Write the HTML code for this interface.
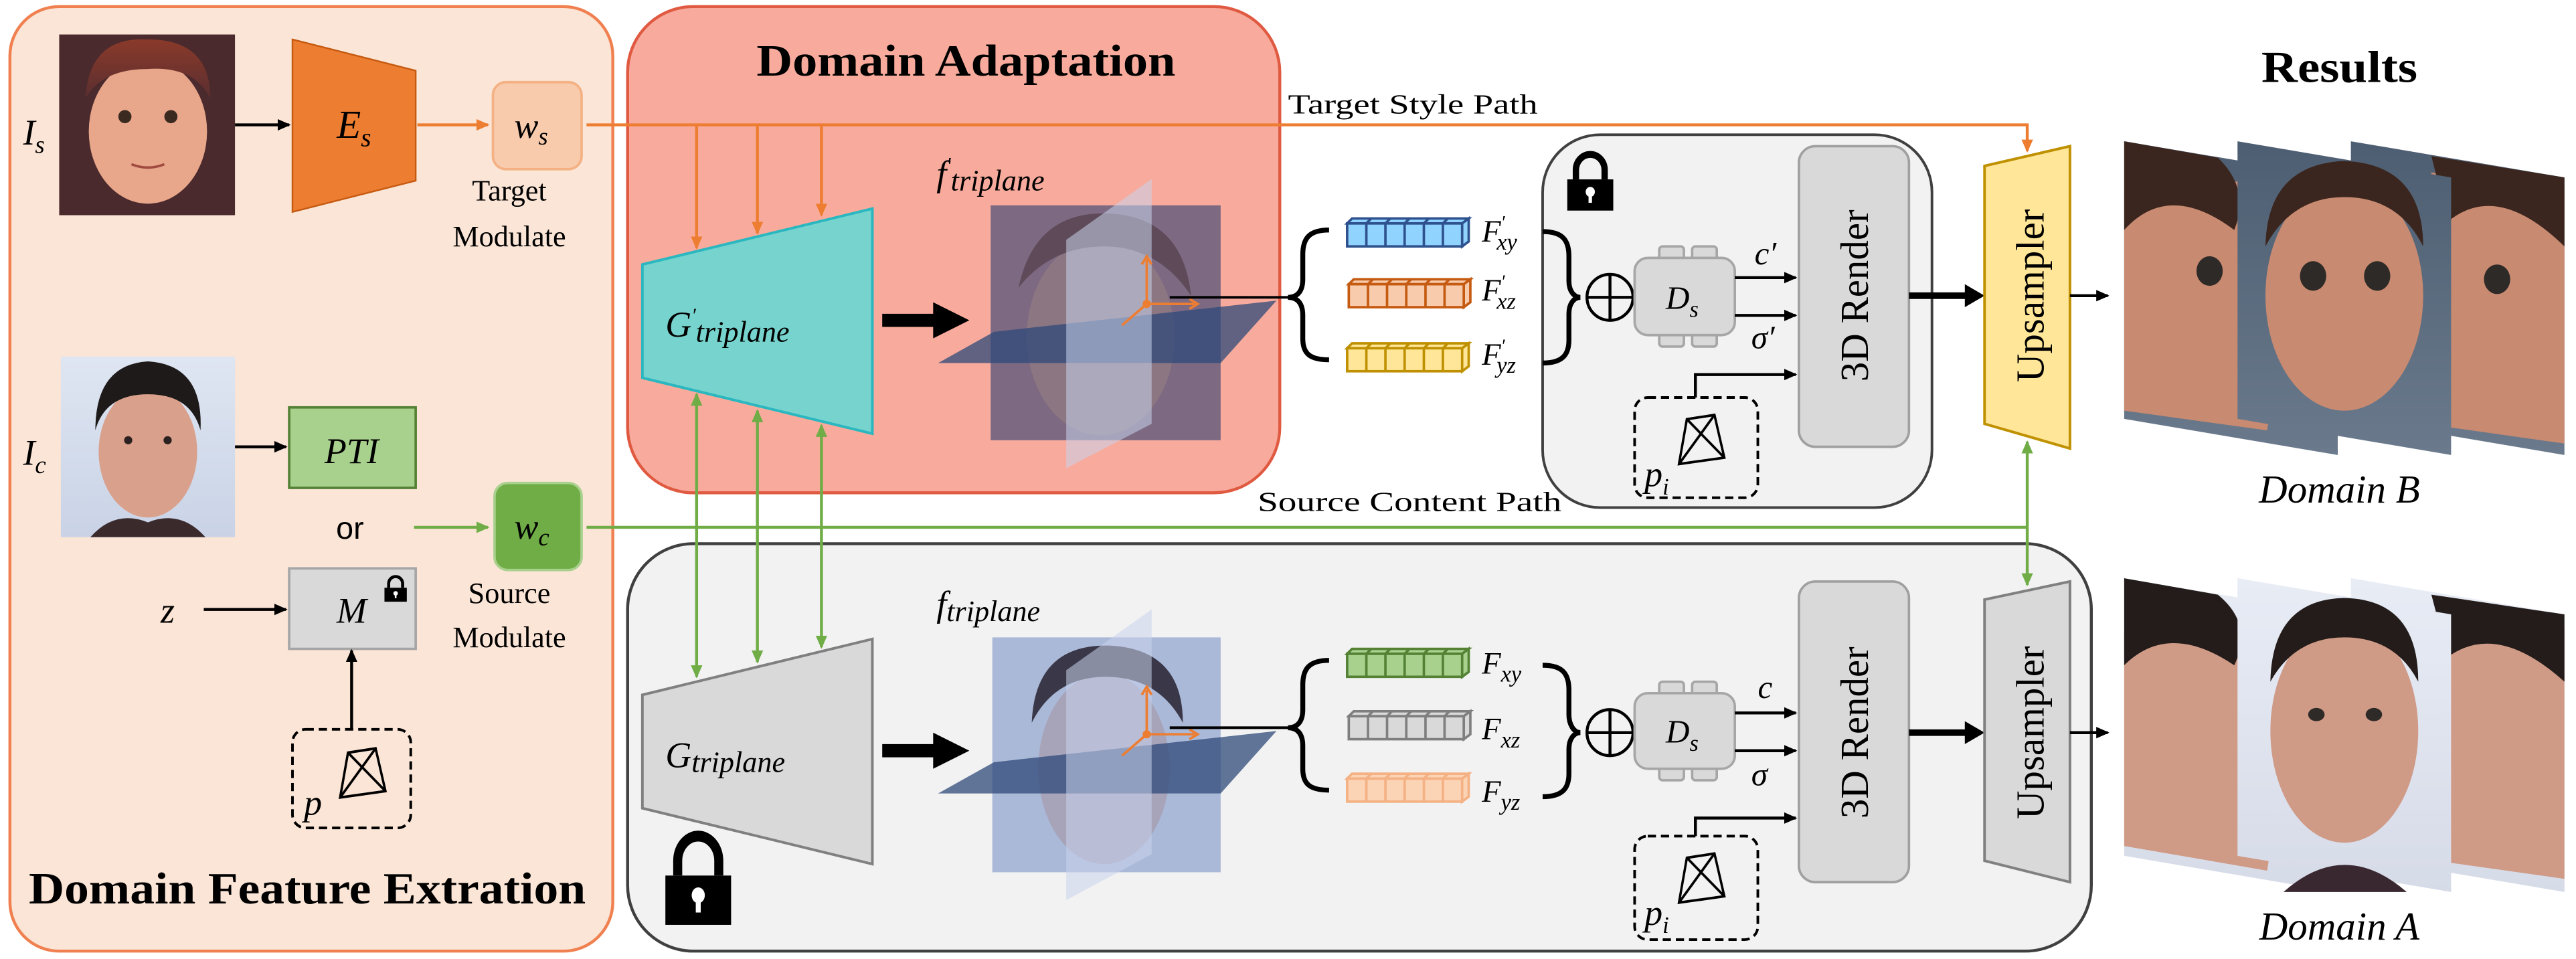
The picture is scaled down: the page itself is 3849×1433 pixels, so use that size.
<!DOCTYPE html>
<html><head><meta charset="utf-8"><style>html,body{margin:0;padding:0;background:#fff}svg{display:block}</style></head>
<body>
<svg width="3849" height="1433" viewBox="0 0 1568 583.8" xmlns="http://www.w3.org/2000/svg">
<defs>
<marker id="ab" markerWidth="8" markerHeight="8" refX="7" refY="4" orient="auto" markerUnits="userSpaceOnUse"><path d="M0,0.5 L8,4 L0,7.5 z" fill="#000"/></marker>
<marker id="ao" markerWidth="8" markerHeight="8" refX="7" refY="4" orient="auto" markerUnits="userSpaceOnUse"><path d="M0,0.5 L8,4 L0,7.5 z" fill="#ed7d31"/></marker>
<marker id="ag" markerWidth="8" markerHeight="8" refX="7" refY="4" orient="auto" markerUnits="userSpaceOnUse"><path d="M0,0.5 L8,4 L0,7.5 z" fill="#70ad47"/></marker>
<marker id="agr" markerWidth="8" markerHeight="8" refX="1" refY="4" orient="auto" markerUnits="userSpaceOnUse"><path d="M8,0.5 L0,4 L8,7.5 z" fill="#70ad47"/></marker>
<g id="bar">
<polygon points="0,3 3,0 74,0 70,3"/>
<polygon points="70,3 74,0 74,14 70,17"/>
<rect x="0" y="3" width="70" height="14"/>
<path d="M11.7,3V17M23.3,3V17M35,3V17M46.7,3V17M58.3,3V17M14.7,0L11.7,3M26.3,0L23.3,3M38,0L35,3M49.7,0L46.7,3M61.3,0L58.3,3" fill="none"/>
</g>
<g id="lock">
<path d="M3,8 V5 A5,5 0 0 1 13,5 V8" fill="none" stroke="#000" stroke-width="2.2"/>
<rect x="0" y="8" width="16" height="10" fill="#000"/>
<circle cx="8" cy="12" r="1.6" fill="#fff"/><rect x="7.4" y="12" width="1.2" height="3.5" fill="#fff"/>
</g>
<g id="cam">
<path d="M14,4 L28,2 L33,22 L10,25 Z M14,4 L33,22 M28,2 L10,25 M14,4 L10,25" fill="none" stroke="#000" stroke-width="1.2"/>
</g>
<linearGradient id="hairS" x1="0" y1="0" x2="0" y2="1"><stop offset="0" stop-color="#8a3a2a"/><stop offset="1" stop-color="#5a2e30"/></linearGradient>
<linearGradient id="bgC" x1="0" y1="0" x2="0" y2="1"><stop offset="0" stop-color="#dfe6f2"/><stop offset="1" stop-color="#c9d3e6"/></linearGradient>
<linearGradient id="bgB" x1="0" y1="0" x2="0" y2="1"><stop offset="0" stop-color="#4e5e72"/><stop offset="1" stop-color="#6a7a8c"/></linearGradient>
<linearGradient id="bgA" x1="0" y1="0" x2="0" y2="1"><stop offset="0" stop-color="#e8ecf5"/><stop offset="1" stop-color="#d6dbe8"/></linearGradient>
</defs>

<!-- Left panel -->
<rect x="6" y="4" width="367" height="575" rx="30" fill="#fbe5d6" stroke="#f08050" stroke-width="1.8"/>
<!-- Domain Adaptation box -->
<rect x="382" y="4" width="397" height="296" rx="40" fill="#f8ab9c" stroke="#e05a42" stroke-width="1.8"/>
<!-- bottom grey box -->
<rect x="382" y="331" width="891" height="248" rx="40" fill="#f2f2f2" stroke="#404040" stroke-width="1.8"/>
<!-- upper render box -->
<rect x="939" y="82" width="237" height="227" rx="35" fill="#f2f2f2" stroke="#404040" stroke-width="1.6"/>

<!-- Titles -->
<text x="588" y="46" font-family="Liberation Serif, serif" font-weight="bold" font-size="27" text-anchor="middle" textLength="255" lengthAdjust="spacingAndGlyphs">Domain Adaptation</text>
<text x="1424" y="50" font-family="Liberation Serif, serif" font-weight="bold" font-size="27" text-anchor="middle" textLength="95" lengthAdjust="spacingAndGlyphs">Results</text>
<text x="187" y="550" font-family="Liberation Serif, serif" font-weight="bold" font-size="27" text-anchor="middle" textLength="339" lengthAdjust="spacingAndGlyphs">Domain Feature Extration</text>

<!-- Is face -->
<rect x="36" y="21" width="107" height="110" fill="#4a2a2c"/>
<ellipse cx="90" cy="80" rx="36" ry="44" fill="#e8a68a"/>
<path d="M52,60 Q54,22 90,24 Q128,24 128,60 Q118,40 90,42 Q62,42 52,60 Z" fill="url(#hairS)"/>
<circle cx="76" cy="71" r="4" fill="#3a2a20"/><circle cx="104" cy="71" r="4" fill="#3a2a20"/>
<path d="M80,100 Q90,104 100,100" stroke="#a04a40" stroke-width="1.5" fill="none"/>
<text x="14" y="88" font-family="Liberation Serif, serif" font-style="italic" font-size="22">I<tspan font-size="15" dy="5">s</tspan></text>

<line x1="143" y1="76" x2="176" y2="76" stroke="#000" stroke-width="1.8" marker-end="url(#ab)"/>
<!-- Es -->
<polygon points="178,24 253,43 253,110 178,129" fill="#ed7d31" stroke="#c55a11" stroke-width="1"/>
<text x="205" y="84" font-family="Liberation Serif, serif" font-style="italic" font-size="24">E<tspan font-size="16" dy="5">s</tspan></text>
<line x1="254" y1="76" x2="297" y2="76" stroke="#ed7d31" stroke-width="1.8" marker-end="url(#ao)"/>
<!-- ws -->
<rect x="300" y="50" width="54" height="53" rx="8" fill="#f8cbad" stroke="#f4b183" stroke-width="1.5"/>
<text x="313" y="84" font-family="Liberation Serif, serif" font-style="italic" font-size="22">w<tspan font-size="15" dy="4">s</tspan></text>
<text x="310" y="122" font-family="Liberation Serif, serif" font-size="18" text-anchor="middle">Target</text>
<text x="310" y="150" font-family="Liberation Serif, serif" font-size="18" text-anchor="middle">Modulate</text>

<!-- Ic face -->
<rect x="37" y="217" width="106" height="110" fill="url(#bgC)"/>
<ellipse cx="90" cy="275" rx="30" ry="40" fill="#d9a08c"/>
<path d="M58,262 Q58,222 90,220 Q124,222 122,262 Q116,240 90,240 Q64,240 58,262 Z" fill="#1e1a1a"/>
<path d="M55,327 Q70,310 90,318 Q110,310 125,327 Z" fill="#3a2a2c"/>
<circle cx="78" cy="268" r="2.5" fill="#2a2020"/><circle cx="102" cy="268" r="2.5" fill="#2a2020"/>
<text x="14" y="283" font-family="Liberation Serif, serif" font-style="italic" font-size="22">I<tspan font-size="15" dy="5">c</tspan></text>
<line x1="143" y1="272" x2="174" y2="272" stroke="#000" stroke-width="1.8" marker-end="url(#ab)"/>
<!-- PTI -->
<rect x="176" y="248" width="77" height="49" fill="#a9d18e" stroke="#548235" stroke-width="1.5"/>
<text x="214" y="282" font-family="Liberation Serif, serif" font-style="italic" font-size="22" text-anchor="middle">PTI</text>
<text x="213" y="328" font-family="Liberation Sans, sans-serif" font-size="19" text-anchor="middle">or</text>
<line x1="252" y1="321" x2="297" y2="321" stroke="#70ad47" stroke-width="1.8" marker-end="url(#ag)"/>
<!-- wc -->
<rect x="301" y="294" width="53" height="53" rx="8" fill="#70ad47" stroke="#a9d18e" stroke-width="1.5"/>
<text x="313" y="328" font-family="Liberation Serif, serif" font-style="italic" font-size="22">w<tspan font-size="15" dy="4">c</tspan></text>
<text x="310" y="367" font-family="Liberation Serif, serif" font-size="18" text-anchor="middle">Source</text>
<text x="310" y="394" font-family="Liberation Serif, serif" font-size="18" text-anchor="middle">Modulate</text>
<!-- M -->
<text x="102" y="379" font-family="Liberation Serif, serif" font-style="italic" font-size="22" text-anchor="middle">z</text>
<line x1="124" y1="371" x2="174" y2="371" stroke="#000" stroke-width="1.8" marker-end="url(#ab)"/>
<rect x="176" y="346" width="77" height="49" fill="#d9d9d9" stroke="#a6a6a6" stroke-width="1.5"/>
<text x="214" y="379" font-family="Liberation Serif, serif" font-style="italic" font-size="22" text-anchor="middle">M</text>
<use href="#lock" transform="translate(234,351) scale(0.85)"/>
<line x1="214" y1="444" x2="214" y2="396" stroke="#000" stroke-width="1.8" marker-end="url(#ab)"/>
<rect x="178" y="444" width="72" height="60" rx="8" fill="none" stroke="#000" stroke-width="1.6" stroke-dasharray="5,3"/>
<use href="#cam" transform="translate(195,453) scale(1.2,1.3)"/>
<text x="185" y="496" font-family="Liberation Serif, serif" font-style="italic" font-size="22">p</text>

<!-- Target style path -->
<path d="M357,76 H1234 V92" fill="none" stroke="#ed7d31" stroke-width="1.8" marker-end="url(#ao)"/>
<line x1="424" y1="76" x2="424" y2="151" stroke="#ed7d31" stroke-width="1.8" marker-end="url(#ao)"/>
<line x1="461" y1="76" x2="461" y2="142" stroke="#ed7d31" stroke-width="1.8" marker-end="url(#ao)"/>
<line x1="500" y1="76" x2="500" y2="131" stroke="#ed7d31" stroke-width="1.8" marker-end="url(#ao)"/>
<text x="860" y="69" font-family="Liberation Serif, serif" font-size="17" text-anchor="middle" textLength="152" lengthAdjust="spacingAndGlyphs">Target Style Path</text>

<!-- Source content path -->
<path d="M357,321 H1234" fill="none" stroke="#70ad47" stroke-width="1.8"/>
<line x1="1234" y1="321" x2="1234" y2="269" stroke="#70ad47" stroke-width="1.8" marker-end="url(#ag)"/>
<line x1="1234" y1="321" x2="1234" y2="356" stroke="#70ad47" stroke-width="1.8" marker-end="url(#ag)"/>
<text x="858" y="311" font-family="Liberation Serif, serif" font-size="17" text-anchor="middle" textLength="185" lengthAdjust="spacingAndGlyphs">Source Content Path</text>

<!-- green bidirectional -->
<g stroke="#70ad47" stroke-width="1.8" marker-start="url(#agr)" marker-end="url(#ag)">
<line x1="424" y1="240" x2="424" y2="412"/>
<line x1="461" y1="250" x2="461" y2="403"/>
<line x1="500" y1="259" x2="500" y2="394"/>
</g>

<!-- G' -->
<polygon points="391,161 531,127 531,264 391,230" fill="#77d3cd" stroke="#2ab7c0" stroke-width="1.6"/>
<text x="405" y="205" font-family="Liberation Serif, serif" font-style="italic" font-size="22">G<tspan font-size="12" dy="-9">′</tspan><tspan font-size="18" dy="12">triplane</tspan></text>
<!-- G -->
<polygon points="391,423 531,389 531,526 391,492" fill="#d9d9d9" stroke="#808080" stroke-width="1.6"/>
<text x="405" y="467" font-family="Liberation Serif, serif" font-style="italic" font-size="22">G<tspan font-size="18" dy="3">triplane</tspan></text>
<use href="#lock" transform="translate(405,509) scale(2.5,3)"/>

<!-- thick arrows -->
<g fill="#000">
<path d="M537,191 H568 V184 L590,195 L568,206 V199 H537 Z"/>
<path d="M537,453 H568 V446 L590,457 L568,468 V461 H537 Z"/>
</g>

<!-- triplane top -->
<text x="570" y="113" font-family="Liberation Serif, serif" font-style="italic" font-size="22">f<tspan font-size="12" dy="-9">′</tspan><tspan font-size="18" dy="12">triplane</tspan></text>
<rect x="603" y="125" width="140" height="143" fill="#7d6a82"/>
<ellipse cx="670" cy="205" rx="45" ry="60" fill="#8c7682"/>
<path d="M620,175 Q630,128 675,130 Q720,132 725,180 Q705,150 672,150 Q640,150 620,175 Z" fill="#5e4a58"/>
<polygon points="571,221 743,221 777,183 605,202" fill="#2f4a7a" opacity="0.75"/>
<polygon points="649,146 701,109 701,258 649,285" fill="#c8d4ec" opacity="0.55"/>
<g stroke="#ed7d31" stroke-width="1.5" fill="none">
<line x1="698" y1="185" x2="698" y2="158"/><path d="M695,161 L698,156 L701,161"/>
<line x1="698" y1="185" x2="727" y2="185"/><path d="M724,182 L729,185 L724,188"/>
<line x1="698" y1="185" x2="683" y2="198"/>
</g>
<circle cx="698" cy="185" r="2.5" fill="#ed7d31"/>
<line x1="712" y1="181" x2="784" y2="181" stroke="#000" stroke-width="1.6"/>

<!-- triplane bottom -->
<text x="570" y="375" font-family="Liberation Serif, serif" font-style="italic" font-size="22">f<tspan font-size="18" dy="3">triplane</tspan></text>
<rect x="604" y="388" width="139" height="143" fill="#aab9d8"/>
<ellipse cx="672" cy="468" rx="40" ry="58" fill="#a7a3b9"/>
<path d="M628,440 Q630,392 675,393 Q720,395 720,440 Q705,412 673,412 Q642,412 628,440 Z" fill="#3a3848"/>
<polygon points="571,483 743,483 777,445 605,464" fill="#2f4a7a" opacity="0.75"/>
<polygon points="649,408 701,371 701,520 649,548" fill="#c8d4ec" opacity="0.55"/>
<g stroke="#ed7d31" stroke-width="1.5" fill="none">
<line x1="698" y1="447" x2="698" y2="420"/><path d="M695,423 L698,418 L701,423"/>
<line x1="698" y1="447" x2="727" y2="447"/><path d="M724,444 L729,447 L724,450"/>
<line x1="698" y1="447" x2="683" y2="460"/>
</g>
<circle cx="698" cy="447" r="2.5" fill="#ed7d31"/>
<line x1="712" y1="443" x2="784" y2="443" stroke="#000" stroke-width="1.6"/>

<!-- Braces top -->
<g fill="none" stroke="#000" stroke-width="3">
<path d="M809,140 C797,140 793,145 793,155 L793,170 C793,177 790,181 784,181 C790,181 793,185 793,192 L793,206 C793,215 797,219 809,219"/>
<path d="M939,141 C951,141 955,146 955,156 L955,171 C955,177 958,181 962,181 C958,181 955,185 955,191 L955,207 C955,216 951,221 939,221"/>
<path d="M809,402 C797,402 793,407 793,417 L793,432 C793,439 790,443 784,443 C790,443 793,447 793,454 L793,468 C793,477 797,481 809,481"/>
<path d="M939,405 C951,405 955,410 955,420 L955,435 C955,441 958,446 962,446 C958,446 955,450 955,456 L955,471 C955,480 951,485 939,485"/>
</g>
<!-- feature bars -->
<use href="#bar" transform="translate(820,133)" fill="#8fd3fe" stroke="#2f528f" stroke-width="1.5"/>
<use href="#bar" transform="translate(821,170)" fill="#f8cbad" stroke="#c55a11" stroke-width="1.5"/>
<use href="#bar" transform="translate(820,209)" fill="#ffe699" stroke="#bf9000" stroke-width="1.5"/>
<use href="#bar" transform="translate(820,395)" fill="#a9d18e" stroke="#548235" stroke-width="1.5"/>
<use href="#bar" transform="translate(821,433)" fill="#d9d9d9" stroke="#7f7f7f" stroke-width="1.5"/>
<use href="#bar" transform="translate(820,471)" fill="#fbd3b5" stroke="#f4b183" stroke-width="1.5"/>
<g font-family="Liberation Serif, serif" font-style="italic" font-size="19">
<text x="902" y="147">F<tspan font-size="11" dy="-8">′</tspan><tspan font-size="14" dx="-5" dy="13">xy</tspan></text>
<text x="902" y="183">F<tspan font-size="11" dy="-8">′</tspan><tspan font-size="14" dx="-5" dy="13">xz</tspan></text>
<text x="902" y="222">F<tspan font-size="11" dy="-8">′</tspan><tspan font-size="14" dx="-5" dy="13">yz</tspan></text>
<text x="902" y="410">F<tspan font-size="14" dy="5">xy</tspan></text>
<text x="902" y="450">F<tspan font-size="14" dy="5">xz</tspan></text>
<text x="902" y="488">F<tspan font-size="14" dy="5">yz</tspan></text>
</g>

<use href="#lock" transform="translate(954,94) scale(1.75,1.9)"/>

<!-- oplus and Ds top -->
<g stroke="#000" stroke-width="1.8" fill="none">
<ellipse cx="980" cy="181" rx="14" ry="14"/><path d="M966,181H994M980,167V195"/>
<ellipse cx="980" cy="446" rx="14" ry="14"/><path d="M966,446H994M980,432V460"/>
</g>
<g fill="#d9d9d9" stroke="#a6a6a6" stroke-width="1.5">
<rect x="1010" y="150" width="15" height="9" rx="2"/><rect x="1030" y="150" width="15" height="9" rx="2"/>
<rect x="1010" y="202" width="15" height="9" rx="2"/><rect x="1030" y="202" width="15" height="9" rx="2"/>
<rect x="995" y="157" width="61" height="47" rx="8"/>
<rect x="1010" y="415" width="15" height="9" rx="2"/><rect x="1030" y="415" width="15" height="9" rx="2"/>
<rect x="1010" y="466" width="15" height="9" rx="2"/><rect x="1030" y="466" width="15" height="9" rx="2"/>
<rect x="995" y="422" width="61" height="46" rx="8"/>
</g>
<g font-family="Liberation Serif, serif" font-style="italic" font-size="20">
<text x="1014" y="188">D<tspan font-size="14" dy="5">s</tspan></text>
<text x="1014" y="452">D<tspan font-size="14" dy="5">s</tspan></text>
<text x="1068" y="161">c′</text>
<text x="1066" y="212">σ′</text>
<text x="1070" y="425">c</text>
<text x="1066" y="478">σ</text>
</g>
<g stroke="#000" stroke-width="1.8" fill="none" marker-end="url(#ab)">
<line x1="1056" y1="169" x2="1093" y2="169"/>
<line x1="1056" y1="192" x2="1093" y2="192"/>
<path d="M1032,242 V228 H1093"/>
<line x1="1056" y1="434" x2="1093" y2="434"/>
<line x1="1056" y1="457" x2="1093" y2="457"/>
<path d="M1032,509 V498 H1093"/>
</g>
<rect x="995" y="242" width="75" height="61" rx="8" fill="none" stroke="#000" stroke-width="1.6" stroke-dasharray="5,3"/>
<use href="#cam" transform="translate(1010,250) scale(1.2,1.3)"/>
<text x="1001" y="296" font-family="Liberation Serif, serif" font-style="italic" font-size="22">p<tspan font-size="14" dy="5">i</tspan></text>
<rect x="995" y="509" width="75" height="63" rx="8" fill="none" stroke="#000" stroke-width="1.6" stroke-dasharray="5,3"/>
<use href="#cam" transform="translate(1010,517) scale(1.2,1.3)"/>
<text x="1001" y="563" font-family="Liberation Serif, serif" font-style="italic" font-size="22">p<tspan font-size="14" dy="5">i</tspan></text>

<!-- 3D render boxes -->
<rect x="1095" y="89" width="67" height="183" rx="10" fill="#d9d9d9" stroke="#a0a0a0" stroke-width="1.5"/>
<rect x="1095" y="354" width="67" height="183" rx="10" fill="#d9d9d9" stroke="#a0a0a0" stroke-width="1.5"/>
<text transform="translate(1137,180) rotate(-90)" font-family="Liberation Serif, serif" font-size="24" text-anchor="middle">3D Render</text>
<text transform="translate(1137,446) rotate(-90)" font-family="Liberation Serif, serif" font-size="24" text-anchor="middle">3D Render</text>

<g fill="#000">
<path d="M1162,178 H1196 V173 L1208,180 L1196,187 V182 H1162 Z"/>
<path d="M1162,444 H1196 V439 L1208,446 L1196,453 V448 H1162 Z"/>
</g>
<!-- upsamplers -->
<polygon points="1208,101 1260,89 1260,273 1208,258" fill="#ffe699" stroke="#bf9000" stroke-width="1.6"/>
<polygon points="1208,365 1260,354 1260,537 1208,524" fill="#d9d9d9" stroke="#808080" stroke-width="1.6"/>
<text transform="translate(1244,180) rotate(-90)" font-family="Liberation Serif, serif" font-size="24" text-anchor="middle">Upsampler</text>
<text transform="translate(1244,446) rotate(-90)" font-family="Liberation Serif, serif" font-size="24" text-anchor="middle">Upsampler</text>
<line x1="1260" y1="180" x2="1283" y2="180" stroke="#000" stroke-width="1.8" marker-end="url(#ab)"/>
<line x1="1260" y1="446" x2="1283" y2="446" stroke="#000" stroke-width="1.8" marker-end="url(#ab)"/>

<!-- Domain B results -->
<g>
<polygon points="1293,86 1423,108 1423,277 1293,255" fill="url(#bgB)"/>
<polygon points="1293,120 1365,110 1390,200 1380,262 1293,250" fill="#c88a70"/>
<path d="M1293,86 L1350,96 Q1370,115 1360,140 Q1320,110 1293,140 Z" fill="#3a261e"/>
<ellipse cx="1345" cy="165" rx="8" ry="9" fill="#2e2a28"/>
<polygon points="1431,86 1561,108 1561,277 1431,255" fill="url(#bgB)"/>
<polygon points="1480,105 1561,115 1561,270 1490,260 1470,200" fill="#c88a70"/>
<path d="M1480,95 L1561,108 L1561,150 Q1520,110 1490,135 Z" fill="#3a261e"/>
<ellipse cx="1520" cy="170" rx="8" ry="9" fill="#2e2a28"/>
<polygon points="1362,86 1492,108 1492,277 1362,255" fill="url(#bgB)"/>
<ellipse cx="1427" cy="180" rx="48" ry="70" fill="#c88a70"/>
<path d="M1379,150 Q1380,100 1427,98 Q1475,100 1475,150 Q1460,120 1427,120 Q1395,120 1379,150 Z" fill="#3a261e"/>
<ellipse cx="1408" cy="168" rx="8" ry="9" fill="#2e2a28"/><ellipse cx="1447" cy="168" rx="8" ry="9" fill="#2e2a28"/>
</g>
<text x="1424" y="306" font-family="Liberation Serif, serif" font-style="italic" font-size="24" text-anchor="middle">Domain B</text>

<!-- Domain A results -->
<g>
<polygon points="1293,352 1423,374 1423,543 1293,521" fill="url(#bgA)"/>
<polygon points="1293,385 1365,378 1390,470 1380,530 1293,515" fill="#cf9a86"/>
<path d="M1293,352 L1350,362 Q1372,380 1360,405 Q1320,378 1293,405 Z" fill="#231c1a"/>
<polygon points="1431,352 1561,374 1561,543 1431,521" fill="url(#bgA)"/>
<polygon points="1480,372 1561,382 1561,535 1490,525 1470,465" fill="#cf9a86"/>
<path d="M1480,362 L1561,374 L1561,415 Q1520,378 1490,400 Z" fill="#231c1a"/>
<polygon points="1362,352 1492,374 1492,543 1362,521" fill="url(#bgA)"/>
<ellipse cx="1427" cy="445" rx="45" ry="68" fill="#cf9a86"/>
<path d="M1382,415 Q1383,365 1427,364 Q1472,365 1472,415 Q1458,388 1427,388 Q1397,388 1382,415 Z" fill="#231c1a"/>
<path d="M1390,543 Q1427,510 1465,543 Z" fill="#3a2830"/>
<ellipse cx="1410" cy="435" rx="5" ry="4" fill="#2e2a28"/><ellipse cx="1445" cy="435" rx="5" ry="4" fill="#2e2a28"/>
</g>
<text x="1424" y="572" font-family="Liberation Serif, serif" font-style="italic" font-size="24" text-anchor="middle">Domain A</text>
</svg>
</body></html>
